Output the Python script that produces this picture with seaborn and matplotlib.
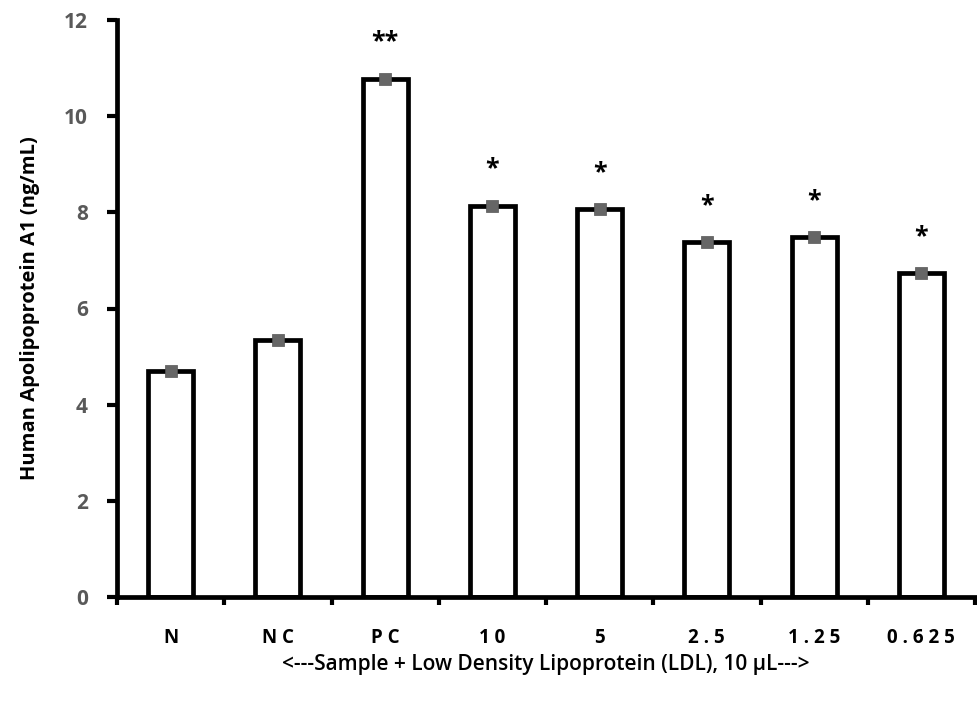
import matplotlib
matplotlib.use("Agg")
import matplotlib.pyplot as plt
import seaborn as sns
import pandas as pd
import numpy as np

categories = ["N", "NC", "PC", "10", "5", "2.5", "1.25", "0.625"]
values = [4.70, 5.34, 10.78, 8.14, 8.06, 7.38, 7.48, 6.74]
stars = ["", "", "**", "*", "*", "*", "*", "*"]
yticks = [0, 2, 4, 6, 8, 10, 12]

sns.set_theme(style="white")
plt.rcParams['font.family'] = ['Open Sans', 'DejaVu Sans']

df = pd.DataFrame({"cat": categories, "val": values})

fig = plt.figure(figsize=(9.77, 7.04), dpi=100)
ax = fig.add_axes([117/977, 107/704, 858/977, 577/704])

sns.barplot(data=df, x="cat", y="val", order=categories, color="white",
            edgecolor="black", linewidth=3.4, width=0.42, ax=ax, errorbar=None,
            saturation=1)
sns.scatterplot(data=df, x="cat", y="val", marker="s", s=75, color="#666666",
                edgecolor="#555555", linewidth=0.5, ax=ax, zorder=5)

for i, (v, s) in enumerate(zip(values, stars)):
    if s:
        ax.text(i, v + 0.5, s, ha="center", va="bottom", fontsize=18,
                fontweight="bold", color="black")

ax.set_xlim(-0.5, 7.5)
ax.set_ylim(0, 12)
ax.set_yticks(yticks)
ax.set_yticklabels([str(t) for t in yticks], fontsize=15, fontweight="bold", color="#595959")
ax.set_xticks(range(len(categories)))
ax.set_xticklabels([" ".join(c) for c in categories], fontsize=13.5, fontweight="bold", color="black")
ax.set_xticks(np.arange(-0.5, len(categories), 1.0), minor=True)
ax.tick_params(axis="x", which="major", bottom=True, length=0, pad=22)
ax.tick_params(axis="x", which="minor", bottom=True, length=6, width=3, color="black", direction="out")
ax.tick_params(axis="y", which="major", left=True, length=7, width=3, color="black", direction="out", pad=14)

for side in ["top", "right"]:
    ax.spines[side].set_visible(False)
for side in ["left", "bottom"]:
    ax.spines[side].set_linewidth(3.4)
    ax.spines[side].set_color("black")

ax.set_xlabel("<---Sample + Low Density Lipoprotein (LDL), 10 µL--->", fontsize=15,
              fontweight="semibold", color="black")
ax.set_ylabel("Human Apolipoprotein A1 (ng/mL)", fontsize=14.5, fontweight="bold",
              color="black")
ax.xaxis.set_label_coords(0.5, -0.098)
ax.yaxis.set_label_coords(-0.09, 0.5)

fig.savefig("out.png", dpi=100)
